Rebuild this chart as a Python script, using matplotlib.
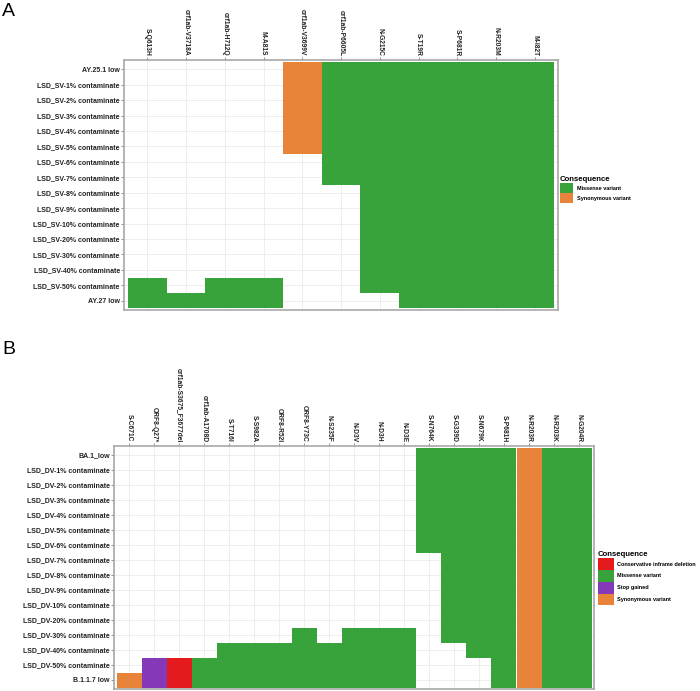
import matplotlib.pyplot as plt
from matplotlib.patches import Patch

# --- data ---
a_rows = ['AY.25.1 low'] + ['LSD_SV-%d%% contaminate' % p for p in [1, 2, 3, 4, 5, 6, 7, 8, 9, 10, 20, 30, 40, 50]] + ['AY.27 low']
a_cols = ['S-Q613H', 'orf1ab-V3718A', 'orf1ab-H712Q', 'M-A81S', 'orf1ab-V3699V', 'orf1ab-P6605L',
          'N-G215C', 'S-T19R', 'S-P681R', 'N-R203M', 'M-I82T']
a_cons = ['Missense variant'] * 4 + ['Synonymous variant'] + ['Missense variant'] * 6
a_first = [14, 15, 14, 14, 0, 0, 0, 0, 0, 0, 0]
a_last = [15, 15, 15, 15, 5, 7, 14, 15, 15, 15, 15]

b_rows = ['BA.1_low'] + ['LSD_DV-%d%% contaminate' % p for p in [1, 2, 3, 4, 5, 6, 7, 8, 9, 10, 20, 30, 40, 50]] + ['B.1.1.7 low']
b_cols = ['S-C671C', 'ORF8-Q27*', 'orf1ab-S3675_F3677del', 'orf1ab-A1708D', 'S-T716I', 'S-S982A',
          'ORF8-R52I', 'ORF8-Y73C', 'N-S235F', 'N-D3V', 'N-D3H', 'N-D3E', 'S-N764K', 'S-G339D',
          'S-N679K', 'S-P681H', 'N-R203R', 'N-R203K', 'N-G204R']
b_cons = ['Synonymous variant', 'Stop gained', 'Conservative inframe deletion'] + ['Missense variant'] * 13 \
         + ['Synonymous variant', 'Missense variant', 'Missense variant']
b_first = [15, 14, 14, 14, 13, 13, 13, 12, 13, 12, 12, 12, 0, 0, 0, 0, 0, 0, 0]
b_last = [15] * 12 + [6, 12, 13, 15, 15, 15, 15]

colors = {
    'Conservative inframe deletion': '#e41a1c',
    'Missense variant': '#38a33a',
    'Stop gained': '#8339b8',
    'Synonymous variant': '#e8833a',
}

W, H = 700, 691
FONT = 'Liberation Sans'
fig = plt.figure(figsize=(W / 100, H / 100), dpi=100)


def px_axes(left, top, right, bottom):
    return fig.add_axes([left / W, 1 - bottom / H, (right - left) / W, (bottom - top) / H])


def draw_panel(ax, rows, cols, cons, first, last):
    x = list(range(len(cols)))
    heights = [l - f + 1 for f, l in zip(first, last)]
    bottoms = [f - 0.5 for f in first]
    ax.bar(x, heights, bottom=bottoms, width=1.0, color=[colors[c] for c in cons], linewidth=0, zorder=2)
    ax.set_xlim(-0.6, len(cols) - 0.4)
    ax.set_ylim(len(rows) - 0.4, -0.6)
    ax.set_xticks(x)
    ax.set_yticks(range(len(rows)))
    ax.xaxis.tick_top()
    ax.set_xticklabels(cols, rotation=270, fontsize=4.8, fontweight='bold', family=FONT,
                       va='bottom', ha='center')
    ax.set_yticklabels(rows, fontsize=5.0, fontweight='bold', family=FONT)
    ax.tick_params(axis='both', length=2, width=0.5, color='#666666', pad=1, labelcolor='#222222')
    ax.grid(color='#ebebeb', linewidth=0.6, zorder=0)
    ax.set_axisbelow(True)
    for s in ax.spines.values():
        s.set_color('#a8a8a8')
        s.set_linewidth(1.2)


def add_legend(ax, cons_list, left, top, key):
    handles = [Patch(facecolor=colors[c], edgecolor='none') for c in cons_list]
    leg = ax.legend(handles, cons_list, title='Consequence', loc='upper left',
                    bbox_to_anchor=(left / W, 1 - top / H), bbox_transform=fig.transFigure,
                    frameon=False, prop={'family': FONT, 'weight': 'bold', 'size': 4.0},
                    title_fontproperties={'family': FONT, 'weight': 'bold', 'size': 5.6},
                    handlelength=key, handleheight=key, handletextpad=0.6, labelspacing=0,
                    borderpad=0, borderaxespad=0)
    leg._legend_box.align = 'left'


ax_a = px_axes(124, 60, 558, 310)
draw_panel(ax_a, a_rows, a_cols, a_cons, a_first, a_last)
add_legend(ax_a, ['Missense variant', 'Synonymous variant'], 560, 176, 2.4)

ax_b = px_axes(114, 446, 594, 689)
draw_panel(ax_b, b_rows, b_cols, b_cons, b_first, b_last)
add_legend(ax_b, ['Conservative inframe deletion', 'Missense variant', 'Stop gained', 'Synonymous variant'], 598, 551, 2.9)

fig.text(2 / W, 1 - 3 / H, 'A', fontsize=14, family=FONT, va='top', ha='left')
fig.text(2 / W, 1 - 341 / H, 'B', fontsize=14, family=FONT, va='top', ha='left')

fig.savefig('out.png', dpi=100)
